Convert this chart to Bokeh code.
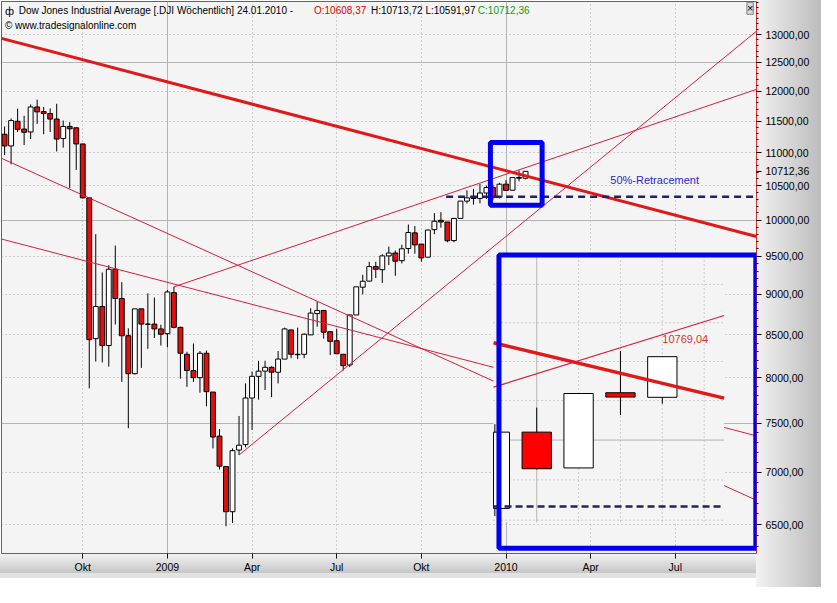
import numpy as np
from bokeh.plotting import figure
from bokeh.models import (Range1d, LogScale, FixedTicker, Grid, Label,
                          BoxAnnotation, ColumnDataSource)
from bokeh.embed import file_html
from bokeh.resources import INLINE

# ------------------------------------------------------------------ data
# weekly bars, bar 0 = week of 29.09.2008 (first bar of "Okt")
bar_index = list(range(-12, 69))
opens = [11290, 11105, 11499, 11373, 11326, 11734, 11657, 11626, 11535, 11222, 11415, 11393,
         11136, 10318, 8455, 8848, 8373, 9327, 8949, 8490, 8046, 8819,
         8631, 8631, 8572, 8515, 9024, 8591, 8270, 8082, 8001, 8282,
         7840, 7366, 7056, 6619, 7222, 7278, 7774, 8016, 8075, 8119,
         8063, 8214, 8560, 8270, 8270, 8500, 8760, 8799, 8539, 8430,
         8270, 8146, 8743, 9093, 9172, 9362, 9321, 9505, 9544, 9441,
         9605, 9820, 9665, 9488, 9865, 9996, 9972, 9713, 10023, 10271,
         10318, 10310, 10389, 10471, 10329, 10520, 10430, 10620, 10608.37]
highs = [11415, 11546, 11706, 11589, 11776, 11857, 11734, 11711, 11787, 11510, 11483, 11403,
         11140, 10318, 9801, 9285, 9382, 9644, 9158, 8579, 8819, 8819,
         9015, 8962, 8623, 9057, 9098, 8599, 8300, 8397, 8308, 8314,
         7840, 7441, 7056, 7239, 7579, 7936, 8071, 8194, 8194, 8130,
         8308, 8587, 8560, 8587, 8519, 8827, 8909, 8799, 8539, 8572,
         8270, 8748, 9098, 9254, 9426, 9426, 9526, 9631, 9578, 9657,
         9937, 9914, 9665, 9865, 10098, 10112, 9972, 10023, 10271, 10428,
         10450, 10524, 10500, 10510, 10540, 10582, 10618, 10727, 10713.72]
lows = [10962, 10818, 11326, 11120, 11213, 11456, 11290, 11326, 11018, 11079, 10461, 10734,
        10309, 7881, 8186, 8175, 8127, 8626, 7953, 7449, 8037, 8112,
        8334, 8462, 8373, 8354, 8579, 7990, 7898, 7953, 7833, 7684,
        7239, 7026, 6484, 6513, 7172, 7250, 7431, 7756, 7863, 7784,
        7936, 8214, 8225, 8214, 8225, 8500, 8599, 8455, 8262, 8270,
        8082, 8121, 8743, 9003, 9170, 9212, 9149, 9382, 9241, 9404,
        9535, 9535, 9426, 9480, 9801, 9892, 9690, 9690, 10023, 10238,
        10220, 10238, 10300, 10290, 10310, 10426, 10430, 10563, 10591.97]
closes = [11105, 11510, 11368, 11321, 11734, 11653, 11626, 11535, 11213, 11415, 11377, 11136,
          10318, 8443, 8848, 8373, 9327, 8949, 8490, 8046, 8819, 8631,
          8629, 8572, 8508, 9032, 8591, 8282, 8082, 8001, 8282, 7844,
          7357, 7059, 6619, 7216, 7272, 7774, 8016, 8075, 8119, 8063,
          8214, 8572, 8270, 8265, 8508, 8766, 8799, 8532, 8423, 8277,
          8138, 8743, 9098, 9170, 9362, 9327, 9505, 9544, 9434, 9601,
          9824, 9654, 9478, 9859, 9982, 9972, 9711, 10023, 10271, 10318,
          10310, 10389, 10471, 10329, 10520, 10428, 10618, 10609, 10712.36]

tick_index = [0, 13, 26, 39, 52, 65, 78, 91]
tick_labels = ["Okt", "2009", "Apr", "Jul", "Okt", "2010", "Apr", "Jul"]
price_ticks = [6500, 7000, 7500, 8000, 8500, 9000, 9500, 10000,
               10500, 11000, 11500, 12000, 12500, 13000]
price_labels = ["6500,00", "7000,00", "7500,00", "8000,00", "8500,00", "9000,00", "9500,00",
                "10000,00", "10500,00", "11000,00", "11500,00", "12000,00", "12500,00", "13000,00"]
price_major_grid = [7500, 10000, 12500]
year_ticks = [13, 65]
last_close = 10712.36
last_text = "10712,36"

# trend lines: two anchor points each (bar index, price); start=None -> from left edge
trend_i1 = [0, 0, 0, 14, 24]
trend_v1 = [12545, 10359, 9447, 9098, 7172]
trend_i2 = [100, 100, 100, 68, 58.1]
trend_v2 = [9852, 6825, 7430, 10769, 9276]
trend_start = [None, None, None, 14, 24]
trend_width = [3, 1, 1, 1, 1]
retrace_value = 10334
retrace_start = 55.8
retrace_text = "50%-Retracement"
trend_c_text = "10769,04"

inset_first_bar = 64
inset_grid_dotted = [10300, 10400, 10600, 10700, 10800, 10900]
inset_grid_solid = [10500]
inset_vgrid_dotted = [66, 67, 68, 69]
inset_vgrid_solid = [65]

# ------------------------------------------------------------------ geometry helpers
X0, DX = 84.3, 6.637
LY0, LK, LV0 = 35.0, 1672.0, 4.1139
def px_i(xp): return (xp - X0) / DX
def px_v(yp): return 10 ** (LV0 - (yp - LY0) / LK)
IX0, IDX = 547.0, 42.67
IY0, IK, IV0 = 443.3, 9850.0, 4.02202
def ipx_i(xp): return 65 + (xp - IX0) / IDX
def ipx_v(yp): return 10 ** (IV0 - (yp - IY0) / IK)

BG = "#F4F4F4"
RED = "#E01010"
LINE_RED = "#D81E3A"
FONT = "Liberation Sans"

p = figure(frame_width=755, frame_height=552,
           x_range=Range1d(px_i(1.5), px_i(771)),
           y_range=Range1d(px_v(568), px_v(1)),
           y_axis_type="log", y_axis_location="right",
           output_backend="svg", toolbar_location=None, tools="",
           min_border_left=1, min_border_right=65, min_border_top=1, min_border_bottom=34,
           background_fill_color=BG, border_fill_color=None,
           outline_line_color="#D83030", outline_line_width=1)
p.styles = {
    "background-color": "#FFFFFF",
    "background-image": ("linear-gradient(to right, #F2F2F2, #BCBCBC), "
                         "linear-gradient(to bottom, #F4F4F4, #C6C6C6), "
                         "linear-gradient(#E2E2E2, #E2E2E2)"),
    "background-size": "65px 100%, 756px 20px, 756px 5px",
    "background-position": "756px 0px, 0px 553px, 0px 573px",
    "background-repeat": "no-repeat",
}
p.extra_x_ranges = {"ix": Range1d(ipx_i(1.5), ipx_i(771))}
p.extra_y_ranges = {"iy": Range1d(ipx_v(568), ipx_v(1))}
p.extra_y_scales = {"iy": LogScale()}

# axes
xa = p.xaxis[0]
xa.ticker = FixedTicker(ticks=tick_index, minor_ticks=[])
xa.major_label_overrides = {t: s for t, s in zip(tick_index, tick_labels)}
xa.major_label_text_align = "left"
xa.major_label_text_font = FONT
xa.major_label_text_font_size = "10.5px"
xa.major_label_text_color = "black"
xa.major_tick_out = 5
xa.major_tick_in = 0
xa.minor_tick_out = 0
xa.major_tick_line_color = "black"
xa.axis_line_color = None
xa.major_label_standoff = 2

ya = p.yaxis[0]
ya.ticker = FixedTicker(ticks=price_ticks + [last_close],
                        minor_ticks=list(range(6300, 13700, 100)))
overrides = {t: s for t, s in zip(price_ticks, price_labels)}
overrides[last_close] = last_text
ya.major_label_overrides = overrides
ya.major_label_text_font = FONT
ya.major_label_text_font_size = "10.5px"
ya.major_label_text_color = "black"
ya.major_tick_out = 5
ya.major_tick_in = 0
ya.minor_tick_out = 2
ya.minor_tick_in = 0
ya.major_tick_line_color = "black"
ya.minor_tick_line_color = "black"
ya.axis_line_color = None
ya.major_label_standoff = 4

# grids
p.xgrid.ticker = FixedTicker(ticks=[t for t in tick_index if t not in year_ticks])
p.xgrid.grid_line_color = "#A6A6A6"
p.xgrid.grid_line_dash = "1 3"
p.add_layout(Grid(dimension=0, ticker=FixedTicker(ticks=year_ticks),
                  grid_line_color="#B4B4B4"))
p.ygrid.ticker = FixedTicker(ticks=[t for t in price_ticks if t not in price_major_grid])
p.ygrid.grid_line_color = "#A6A6A6"
p.ygrid.grid_line_dash = "1 3"
p.add_layout(Grid(dimension=1, ticker=FixedTicker(ticks=price_major_grid),
                  grid_line_color="#B4B4B4"))

# ------------------------------------------------------------------ main candles
x = np.array(bar_index, dtype=float)
o = np.array(opens, float); c = np.array(closes, float)
h = np.array(highs, float); l = np.array(lows, float)
up = c >= o
src = ColumnDataSource(dict(x=x, top=np.maximum(o, c), bottom=np.minimum(o, c), high=h, low=l,
                            color=np.where(up, "#FFFFFF", RED)))
p.segment("x", "high", "x", "low", source=src, line_color="black", line_width=1)
p.vbar("x", 0.75, "top", "bottom", source=src, fill_color="color", line_color="black",
       line_width=1)

# ------------------------------------------------------------------ trend lines
def trend_val(k, i):
    return trend_v1[k] * (trend_v2[k] / trend_v1[k]) ** ((i - trend_i1[k]) / (trend_i2[k] - trend_i1[k]))

xL, xR = p.x_range.start, p.x_range.end
for k in range(len(trend_i1)):
    s = xL if trend_start[k] is None else trend_start[k]
    p.line([s, xR], [trend_val(k, s), trend_val(k, xR)],
           line_color=LINE_RED if trend_width[k] == 1 else "#E01818",
           line_width=trend_width[k])
p.line([retrace_start, xR], [retrace_value, retrace_value], line_color="#1E2266",
       line_width=2.5, line_dash="7 5")

# ------------------------------------------------------------------ inset (magnified view)
iL, iR = ipx_i(503), ipx_i(738)
iT, iB = ipx_v(263), ipx_v(536)
p.quad(left=[iL], right=[iR], top=[iT], bottom=[iB], fill_color=BG, line_color=None,
       x_range_name="ix", y_range_name="iy")
p.segment([iL] * len(inset_grid_dotted), inset_grid_dotted, [iR] * len(inset_grid_dotted),
          inset_grid_dotted, line_color="#A6A6A6", line_dash="1 3",
          x_range_name="ix", y_range_name="iy")
p.segment([iL] * len(inset_grid_solid), inset_grid_solid, [iR] * len(inset_grid_solid),
          inset_grid_solid, line_color="#B4B4B4", x_range_name="ix", y_range_name="iy")
p.segment(inset_vgrid_dotted, [iT] * len(inset_vgrid_dotted), inset_vgrid_dotted,
          [iB] * len(inset_vgrid_dotted), line_color="#A6A6A6", line_dash="1 3",
          x_range_name="ix", y_range_name="iy")
p.segment(inset_vgrid_solid, [iT] * len(inset_vgrid_solid), inset_vgrid_solid,
          [iB] * len(inset_vgrid_solid), line_color="#B4B4B4",
          x_range_name="ix", y_range_name="iy")

sel = x >= inset_first_bar
w = 0.70
isrc = ColumnDataSource(dict(x=x[sel], left=np.maximum(x[sel] - w / 2, iL), right=x[sel] + w / 2,
                             top=np.maximum(o, c)[sel], bottom=np.minimum(o, c)[sel],
                             high=h[sel], low=l[sel],
                             color=np.where(up[sel], "#FFFFFF", "#FF0000")))
p.segment("x", "high", "x", "low", source=isrc, line_color="black", line_width=1,
          x_range_name="ix", y_range_name="iy")
p.quad(left="left", right="right", top="top", bottom="bottom", source=isrc,
       fill_color="color", line_color="black", line_width=1,
       x_range_name="ix", y_range_name="iy")
for k, wd in ((0, 3.5), (3, 1.2)):
    p.line([iL, iR], [trend_val(k, iL), trend_val(k, iR)],
           line_color="#E01818" if k == 0 else LINE_RED, line_width=wd,
           x_range_name="ix", y_range_name="iy")
p.line([iL, iR], [retrace_value, retrace_value], line_color="#1E2266", line_width=2.5,
       line_dash="7 4", x_range_name="ix", y_range_name="iy")

# ------------------------------------------------------------------ annotations
def lab(text, xr, yr, color="black", size="10px", align="left", **kw):
    lb = Label(x=px_i(xr), y=px_v(yr), text=text, text_color=color, text_font=FONT,
               text_font_size=size, text_align=align, text_baseline="middle", **kw)
    p.add_layout(lb)
    return lb

lab(trend_c_text, 675, 348, color="#E03030", size="11px")
lab(retrace_text, 622, 184, color="#2828C8", size="11px")

p.add_layout(BoxAnnotation(left=px_i(499.8), right=px_i(552.5), top=px_v(145.8),
                           bottom=px_v(210.2), fill_color=None, fill_alpha=0,
                           line_color="#0000EE", line_alpha=1, line_width=5))
p.add_layout(BoxAnnotation(left=px_i(508.5), right=px_i(770.3), top=px_v(261.5),
                           bottom=px_v(562.5), fill_color=None, fill_alpha=0,
                           line_color="#0000EE", line_alpha=1, line_width=5))

# header
lab("ф", 5, 10.5, size="11px")
lab("Dow Jones Industrial Average [.DJI  Wöchentlich] 24.01.2010 - ", 19, 10.5)
lab("O:10608,37", 320, 10.5, color="#E00000")
lab("H:10713,72 L:10591,97", 378, 10.5)
lab("C:" + last_text, 487, 10.5, color="#109A10")
lab("© www.tradesignalonline.com", 5, 26)
lab("×", 764.5, 8, size="11px", align="center", background_fill_color="#D8D8D8",
    border_line_color="#808080")

open("out.html", "w").write(file_html(p, INLINE, "DJI"))
